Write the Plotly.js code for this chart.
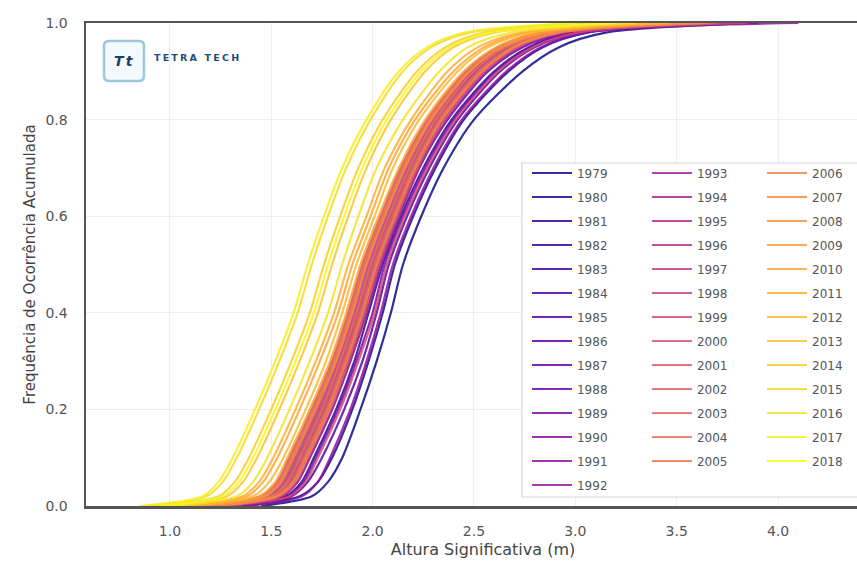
<!DOCTYPE html>
<html><head><meta charset="utf-8">
<script src="https://cdn.plot.ly/plotly-3.0.1.min.js"></script>
<style>html,body{margin:0;padding:0;overflow:hidden;background:#fff}#chart{width:880px;height:569px}
.annotation-text{letter-spacing:2.2px}</style>
</head><body><div id="chart"></div><script>
// Cumulative frequency levels (y) at which each year's wave height (x, m) was read
const cumFreq = [0, 0.02, 0.05, 0.1, 0.2, 0.3, 0.4, 0.5, 0.6, 0.7, 0.8, 0.9, 0.95, 0.98, 1.0];
const years = [1979,1980,1981,1982,1983,1984,1985,1986,1987,1988,1989,1990,1991,1992,
  1993,1994,1995,1996,1997,1998,1999,2000,2001,2002,2003,2004,2005,
  2006,2007,2008,2009,2010,2011,2012,2013,2014,2015,2016,2017,2018];
const xTicks = [1.0, 1.5, 2.0, 2.5, 3.0, 3.5, 4.0];
const yTicks = [0.0, 0.2, 0.4, 0.6, 0.8, 1.0];

const h1979 = [1.45,1.70,1.78,1.85,1.94,2.02,2.09,2.15,2.24,2.35,2.50,2.74,2.92,3.15,3.90];
const h1980 = [1.35,1.64,1.73,1.80,1.90,1.98,2.05,2.11,2.20,2.31,2.45,2.67,2.84,3.06,3.80];
const h1981 = [1.25,1.57,1.65,1.71,1.82,1.91,1.98,2.05,2.14,2.25,2.39,2.60,2.77,2.99,3.70];
const h1982 = [1.20,1.50,1.58,1.64,1.75,1.84,1.92,1.99,2.08,2.18,2.31,2.50,2.66,2.86,3.50];
const h1983 = [1.22,1.53,1.61,1.67,1.78,1.88,1.96,2.03,2.12,2.22,2.35,2.55,2.71,2.92,3.65];
const h1984 = [1.18,1.48,1.56,1.62,1.73,1.82,1.90,1.97,2.06,2.16,2.29,2.48,2.64,2.85,3.55];
const h1985 = [1.30,1.60,1.68,1.75,1.86,1.95,2.02,2.08,2.17,2.28,2.42,2.63,2.80,3.02,3.75];
const h1986 = [1.20,1.52,1.60,1.66,1.77,1.86,1.94,2.01,2.10,2.20,2.33,2.53,2.69,2.90,3.60];
const h1987 = [1.25,1.55,1.63,1.69,1.80,1.89,1.97,2.04,2.13,2.23,2.37,2.57,2.74,2.96,3.70];
const h1988 = [1.15,1.47,1.55,1.61,1.72,1.81,1.89,1.96,2.05,2.15,2.28,2.47,2.63,2.84,3.50];
const h1989 = [1.28,1.58,1.66,1.72,1.83,1.92,2.00,2.06,2.15,2.26,2.40,2.61,2.78,3.00,3.80];
const h1990 = [1.22,1.53,1.61,1.67,1.78,1.87,1.95,2.02,2.11,2.21,2.34,2.54,2.70,2.91,3.60];
const h1991 = [1.38,1.65,1.73,1.79,1.89,1.97,2.04,2.10,2.19,2.30,2.44,2.66,2.83,3.05,4.10];
const h1992 = [1.18,1.50,1.58,1.64,1.75,1.84,1.92,1.99,2.08,2.18,2.31,2.50,2.66,2.87,3.55];
const h1993 = [1.20,1.51,1.59,1.65,1.76,1.85,1.93,2.00,2.09,2.19,2.32,2.51,2.67,2.88,3.60];
const h1994 = [1.12,1.46,1.54,1.60,1.71,1.81,1.89,1.96,2.05,2.15,2.28,2.47,2.63,2.84,3.50];
const h1995 = [1.25,1.55,1.63,1.69,1.80,1.89,1.97,2.04,2.13,2.23,2.36,2.56,2.72,2.94,3.65];
const h1996 = [1.15,1.49,1.57,1.63,1.74,1.83,1.91,1.98,2.07,2.17,2.30,2.49,2.65,2.86,3.55];
const h1997 = [1.22,1.53,1.61,1.67,1.78,1.87,1.95,2.02,2.11,2.21,2.34,2.54,2.70,2.92,3.70];
const h1998 = [1.10,1.45,1.53,1.59,1.70,1.80,1.88,1.95,2.04,2.14,2.27,2.46,2.62,2.83,3.50];
const h1999 = [1.28,1.59,1.67,1.73,1.84,1.93,2.01,2.07,2.16,2.27,2.41,2.62,2.79,3.01,3.85];
const h2000 = [1.18,1.51,1.59,1.65,1.76,1.85,1.93,2.00,2.09,2.19,2.32,2.52,2.68,2.89,3.60];
const h2001 = [1.15,1.48,1.56,1.62,1.73,1.82,1.90,1.97,2.06,2.16,2.29,2.48,2.64,2.85,3.55];
const h2002 = [1.23,1.54,1.62,1.68,1.79,1.88,1.96,2.03,2.12,2.22,2.35,2.55,2.71,2.93,3.70];
const h2003 = [1.12,1.45,1.53,1.59,1.70,1.80,1.88,1.95,2.04,2.14,2.27,2.46,2.62,2.83,3.45];
const h2004 = [1.20,1.52,1.60,1.66,1.77,1.86,1.94,2.01,2.10,2.20,2.33,2.53,2.69,2.90,3.65];
const h2005 = [1.18,1.50,1.58,1.64,1.75,1.84,1.92,1.99,2.08,2.18,2.31,2.50,2.66,2.87,3.55];
const h2006 = [1.12,1.46,1.54,1.60,1.71,1.81,1.89,1.96,2.05,2.15,2.28,2.47,2.63,2.84,3.50];
const h2007 = [1.22,1.53,1.61,1.67,1.78,1.87,1.95,2.02,2.11,2.21,2.34,2.54,2.70,2.91,3.65];
const h2008 = [1.14,1.47,1.55,1.61,1.72,1.82,1.90,1.97,2.06,2.16,2.29,2.48,2.64,2.85,3.55];
const h2009 = [1.10,1.44,1.52,1.58,1.69,1.79,1.87,1.94,2.03,2.13,2.26,2.45,2.61,2.82,3.50];
const h2010 = [1.05,1.38,1.46,1.53,1.64,1.74,1.83,1.90,1.99,2.08,2.21,2.40,2.55,2.76,3.40];
const h2011 = [1.02,1.36,1.44,1.51,1.62,1.72,1.81,1.88,1.97,2.06,2.19,2.37,2.52,2.73,3.35];
const h2012 = [1.08,1.41,1.49,1.56,1.67,1.77,1.85,1.92,2.01,2.10,2.23,2.42,2.57,2.78,3.45];
const h2013 = [0.95,1.28,1.36,1.43,1.54,1.64,1.73,1.80,1.88,1.97,2.09,2.26,2.40,2.60,3.20];
const h2014 = [0.92,1.24,1.32,1.39,1.50,1.60,1.69,1.76,1.84,1.93,2.05,2.22,2.36,2.55,3.15];
const h2015 = [0.88,1.18,1.26,1.33,1.44,1.54,1.63,1.70,1.78,1.87,1.99,2.15,2.29,2.48,3.05];
const h2016 = [1.00,1.33,1.41,1.48,1.59,1.69,1.78,1.85,1.93,2.02,2.15,2.33,2.47,2.68,3.30];
const h2017 = [0.85,1.16,1.24,1.31,1.42,1.52,1.61,1.68,1.76,1.85,1.97,2.13,2.27,2.45,3.00];
const h2018 = [0.95,1.26,1.34,1.41,1.52,1.62,1.71,1.78,1.86,1.95,2.07,2.24,2.38,2.58,3.20];

const heightsByYear = [h1979,h1980,h1981,h1982,h1983,h1984,h1985,h1986,h1987,h1988,h1989,h1990,h1991,h1992,
  h1993,h1994,h1995,h1996,h1997,h1998,h1999,h2000,h2001,h2002,h2003,h2004,h2005,
  h2006,h2007,h2008,h2009,h2010,h2011,h2012,h2013,h2014,h2015,h2016,h2017,h2018];

// plasma colormap anchors
const plasma = ['#0d0887','#41049d','#6a00a8','#8f0da4','#b12a90','#cc4778','#e16462','#f2844b','#fca636','#fcce25','#f0f921'];
function hex2rgb(h){return [parseInt(h.slice(1,3),16),parseInt(h.slice(3,5),16),parseInt(h.slice(5,7),16)];}
function plasmaAt(t){
  const p = t*(plasma.length-1); const i = Math.min(Math.floor(p), plasma.length-2); const f = p-i;
  const a = hex2rgb(plasma[i]), b = hex2rgb(plasma[i+1]);
  return 'rgb('+a.map((v,k)=>Math.round(v+(b[k]-v)*f)).join(',')+')';
}

const FONT = 'DejaVu Sans';
const traces = years.map((yr, i) => ({
  type: 'scatter', mode: 'lines',
  x: heightsByYear[i], y: cumFreq,
  name: String(yr), legendgroup: String(yr),
  legend: i < 14 ? 'legend' : (i < 27 ? 'legend2' : 'legend3'),
  line: {color: plasmaAt(i/(years.length-1)), width: 2.2, shape: 'spline', smoothing: 0.8},
  opacity: 0.85, hoverinfo: 'x+y+name'
}));

function legendAt(x){
  return {x: x, y: 0.7195, xanchor: 'left', yanchor: 'top', bgcolor: 'rgba(0,0,0,0)',
    borderwidth: 0, itemwidth: 40, traceorder: 'grouped', tracegroupgap: 5,
    font: {family: FONT, size: 12, color: '#555'}};
}

const layout = {
  width: 880, height: 569,
  margin: {l: 86, r: 0, t: 23, b: 63},
  paper_bgcolor: '#fff', plot_bgcolor: '#fff',
  showlegend: true,
  legend: legendAt(0.5554), legend2: legendAt(0.7065), legend3: legendAt(0.8514),
  xaxis: {
    range: [0.586, 4.503], tickvals: xTicks, tickformat: '.1f',
    ticks: 'outside', ticklen: 11, tickcolor: 'rgba(0,0,0,0)',
    showline: true, mirror: true, linecolor: '#555', linewidth: 2.5,
    showgrid: true, gridcolor: '#eeeeee', zeroline: false,
    tickfont: {family: FONT, size: 14, color: '#555'},
    title: {text: 'Altura Significativa (m)', font: {family: FONT, size: 16, color: '#444'}, standoff: 6}
  },
  yaxis: {
    range: [0, 1], tickvals: yTicks, tickformat: '.1f',
    ticks: 'outside', ticklen: 13, tickcolor: 'rgba(0,0,0,0)',
    showline: true, mirror: true, linecolor: '#555', linewidth: 2.5,
    showgrid: true, gridcolor: '#eeeeee', zeroline: false,
    tickfont: {family: FONT, size: 14, color: '#555'},
    title: {text: 'Frequência de Ocorrência Acumulada', font: {family: FONT, size: 15, color: '#444'}, standoff: 6}
  },
  shapes: [
    {type: 'rect', xref: 'paper', yref: 'paper', x0: 0.549, x1: 1.05, y0: 0.0186, y1: 0.7101,
     line: {color: '#d6d6d6', width: 1.2}, fillcolor: '#ffffff', layer: 'above'},
    {type: 'path', xref: 'paper', yref: 'paper', layer: 'above',
     path: 'M 0.0290,0.9627 L 0.0667,0.9627 Q 0.0730,0.9627 0.0730,0.9523 L 0.0730,0.8903 Q 0.0730,0.8799 0.0667,0.8799 L 0.0290,0.8799 Q 0.0227,0.8799 0.0227,0.8903 L 0.0227,0.9523 Q 0.0227,0.9627 0.0290,0.9627 Z',
     line: {color: '#9cc7dc', width: 2.5}, fillcolor: '#f3f9fc'}
  ],
  annotations: [
    {xref: 'paper', yref: 'paper', x: 0.0479, y: 0.9213, xanchor: 'center', yanchor: 'middle',
     text: '<b><i>Tt</i></b>', showarrow: false, font: {family: FONT, size: 14, color: '#1b3f66'}},
    {xref: 'paper', yref: 'paper', x: 0.0831, y: 0.9296, xanchor: 'left', yanchor: 'middle',
     text: '<b>TETRA TECH</b>', showarrow: false, font: {family: FONT, size: 9.5, color: '#1f4e79'}}
  ]
};

Plotly.newPlot('chart', traces, layout, {displayModeBar: false, responsive: false, staticPlot: true});
</script></body></html>
